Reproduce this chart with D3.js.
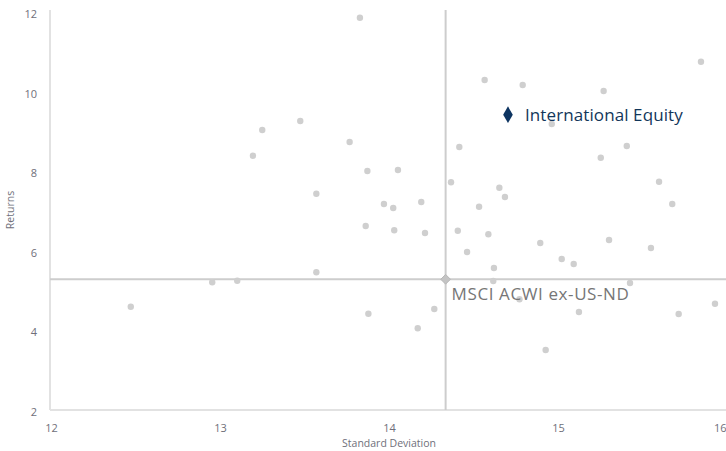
<!DOCTYPE html>
<html>
<head>
<meta charset="utf-8">
<script src="https://cdn.jsdelivr.net/npm/d3@7"></script>
<style>
html,body{margin:0;padding:0;background:#fff;}
svg{display:block;}
</style>
</head>
<body>
<svg id="chart" width="726" height="451"></svg>
<script>
// Peer universe: standard deviation (x) and returns (y)
const peerStdDev = [12.472,12.954,13.102,13.195,13.250,13.475,13.570,13.570,13.767,13.828,
  13.862,13.872,13.878,13.970,14.025,14.031,14.053,14.170,14.191,14.213,
  14.268,14.367,14.407,14.416,14.462,14.533,14.566,14.588,14.621,14.653,
  14.686,14.617,14.772,14.791,14.895,14.927,14.963,15.022,15.093,15.124,
  15.253,15.270,15.302,15.407,15.426,15.550,15.598,15.676,15.714,15.846,15.929];
const peerReturns = [4.595,5.209,5.249,8.389,9.035,9.261,7.435,5.460,8.734,11.857,
  6.623,8.005,4.420,7.176,7.075,6.515,8.030,4.053,7.226,6.447,
  4.538,7.721,6.505,8.608,5.970,7.108,10.291,6.415,5.568,7.585,
  7.352,5.241,4.781,10.166,6.196,3.508,9.186,5.794,5.668,4.462,
  8.339,10.015,6.271,8.633,5.191,6.070,7.736,7.176,4.412,10.751,4.671];

const benchmarkName = "MSCI ACWI ex-US-ND";
const benchmarkStdDev = 14.335;
const benchmarkReturn = 5.284;

const fundName = "International Equity";
const fundStdDev = 14.704;
const fundReturn = 9.420;

const xTicks = [12,13,14,15,16];
const yTicks = [2,4,6,8,10,12];
const xTitle = "Standard Deviation";
const yTitle = "Returns";

const W = 726;
const svg = d3.select("#chart");
const x = d3.scaleLinear().domain([12,16]).range([51,727]);
const y = d3.scaleLinear().domain([2,12]).range([410,12]);

const tickFont = "'Open Sans', sans-serif";
const tickColor = "#6f6f7a";

// axes
const xAxis = svg.append("g").attr("transform","translate(0,410)")
  .call(d3.axisBottom(x).tickValues(xTicks).tickSize(0).tickPadding(14).tickFormat(d3.format("d")));
xAxis.select(".domain").attr("stroke","#e2e2e2").attr("stroke-width",2).attr("d","M50,0H726");
xAxis.selectAll("text").attr("fill",tickColor).style("font-family",tickFont).style("font-size","11px");
// keep the last tick label inside the frame
xAxis.selectAll(".tick").filter(d => x(d) > W - 8).select("text")
  .attr("text-anchor","end").attr("x", W - x(16));

const yAxis = svg.append("g").attr("transform","translate(50,0)")
  .call(d3.axisLeft(y).tickValues(yTicks).tickSize(0).tickPadding(13).tickFormat(d3.format("d")));
yAxis.select(".domain").attr("stroke","#e2e2e2").attr("stroke-width",2).attr("d","M0,10V410");
yAxis.selectAll("text").attr("fill",tickColor).attr("dy","0.5em").style("font-family",tickFont).style("font-size","11px");

svg.append("text").attr("x",389).attr("y",447).attr("text-anchor","middle")
  .attr("fill",tickColor).style("font-family",tickFont).style("font-size","10.5px").text(xTitle);
svg.append("text").attr("transform","translate(14,210) rotate(-90)").attr("text-anchor","middle")
  .attr("fill",tickColor).style("font-family",tickFont).style("font-size","10.5px").text(yTitle);

// reference lines through benchmark
svg.append("line").attr("x1",x(benchmarkStdDev)).attr("x2",x(benchmarkStdDev))
  .attr("y1",10).attr("y2",410).attr("stroke","#cdcdcd").attr("stroke-width",2);
svg.append("line").attr("x1",50).attr("x2",726)
  .attr("y1",y(benchmarkReturn)).attr("y2",y(benchmarkReturn)).attr("stroke","#cdcdcd").attr("stroke-width",2);

// peer dots
const peers = peerStdDev.map((s,i)=>({s, r: peerReturns[i]}));
svg.append("g").selectAll("circle").data(peers).join("circle")
  .attr("cx",d=>x(d.s)).attr("cy",d=>y(d.r)).attr("r",3.2).attr("fill","#cfcfcf");

// benchmark diamond
svg.append("path").attr("d",d3.symbol(d3.symbolDiamond2,60)())
  .attr("transform",`translate(${x(benchmarkStdDev)},${y(benchmarkReturn)})`)
  .attr("fill","#c4c4c4").attr("stroke","#b8b8b8");
svg.append("text").attr("x",x(benchmarkStdDev)+6).attr("y",y(benchmarkReturn)+21)
  .attr("fill","#767676").style("font-family","'Open Sans', sans-serif").style("font-size","17px")
  .style("letter-spacing","0.6px").text(benchmarkName);

// fund diamond
svg.append("path").attr("d",d3.symbol(d3.symbolDiamond,80)())
  .attr("transform",`translate(${x(fundStdDev)},${y(fundReturn)})`)
  .attr("fill","#0d3461");
svg.append("text").attr("x",x(fundStdDev)+17).attr("y",y(fundReturn)+6)
  .attr("fill","#12365a").style("font-family","'Open Sans', sans-serif").style("font-size","17px")
  .style("letter-spacing","0.1px").text(fundName);
</script>
</body>
</html>
